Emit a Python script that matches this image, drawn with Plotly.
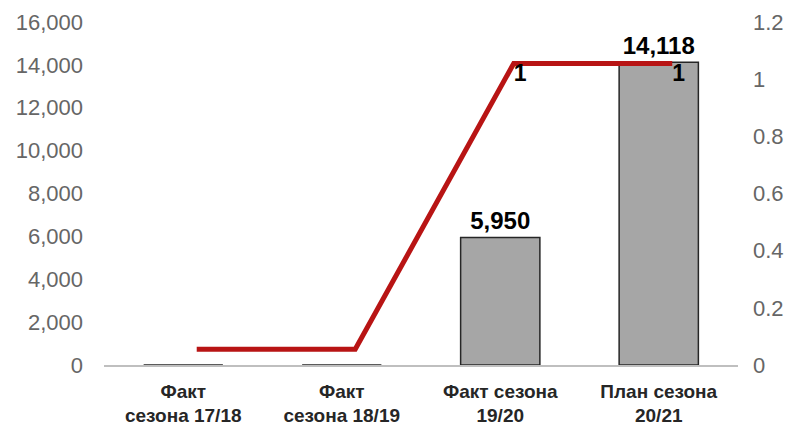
import plotly.graph_objects as go

categories = ["Факт<br>сезона 17/18", "Факт<br>сезона 18/19", "Факт сезона<br>19/20", "План сезона<br>20/21"]
bar_values = [0, 0, 5950, 14118]
line_values = [0.055, 0.055, 1.055, 1.055]
left_ticks = [0, 2000, 4000, 6000, 8000, 10000, 12000, 14000, 16000]
right_ticks = [0, 0.2, 0.4, 0.6, 0.8, 1, 1.2]

bar_text = [f"{v:,}" if v > 0 else "" for v in bar_values]
line_text = [f"{v:.0f}" if v >= 0.5 else "" for v in line_values]
line_x = list(range(len(line_values)))

fig = go.Figure()
fig.add_trace(go.Bar(
    x=categories, y=bar_values, text=bar_text, textposition="outside",
    textfont=dict(family="Liberation Sans", size=24, color="#000000", weight="bold"),
    marker=dict(color="#A6A6A6", line=dict(color="#262626", width=1.5)),
    width=0.5, cliponaxis=False, showlegend=False,
))
fig.add_trace(go.Scatter(
    x=line_x, y=line_values, xaxis="x2", yaxis="y2", mode="lines+text",
    text=line_text, textposition="bottom right",
    textfont=dict(family="Liberation Sans", size=23, color="#000000", weight="bold"),
    line=dict(color="#B81414", width=5), cliponaxis=False, showlegend=False,
))

fig.update_layout(
    width=787, height=431,
    margin=dict(l=104, r=49, t=22, b=66),
    plot_bgcolor="white", paper_bgcolor="white",
    font=dict(family="Liberation Sans"),
    xaxis=dict(
        showgrid=False, showline=True, linecolor="#BFBFBF", linewidth=1.5,
        tickfont=dict(size=19, color="#262626", weight="bold"),
        ticks="", zeroline=False, automargin=False, ticklabelstandoff=8,
    ),
    xaxis2=dict(
        overlaying="x", range=[-0.5 - 0.085, 3.5 - 0.085], visible=False,
    ),
    yaxis=dict(
        range=[0, 16000], tickvals=left_ticks, tickformat=",d",
        showgrid=False, zeroline=False, showline=False,
        tickfont=dict(size=22, color="#666666"), ticks="",
        ticklabelstandoff=20, automargin=False,
    ),
    yaxis2=dict(
        range=[0, 1.2], tickvals=right_ticks, overlaying="y", side="right",
        showgrid=False, zeroline=False, showline=False,
        tickfont=dict(size=22, color="#666666"), ticks="",
        ticklabelstandoff=14, automargin=False,
    ),
    bargap=0.5,
)

fig.write_html(
    "out.html",
    config={"displayModeBar": False},
    post_script="document.body.style.margin='0';document.body.style.overflow='hidden';",
)
